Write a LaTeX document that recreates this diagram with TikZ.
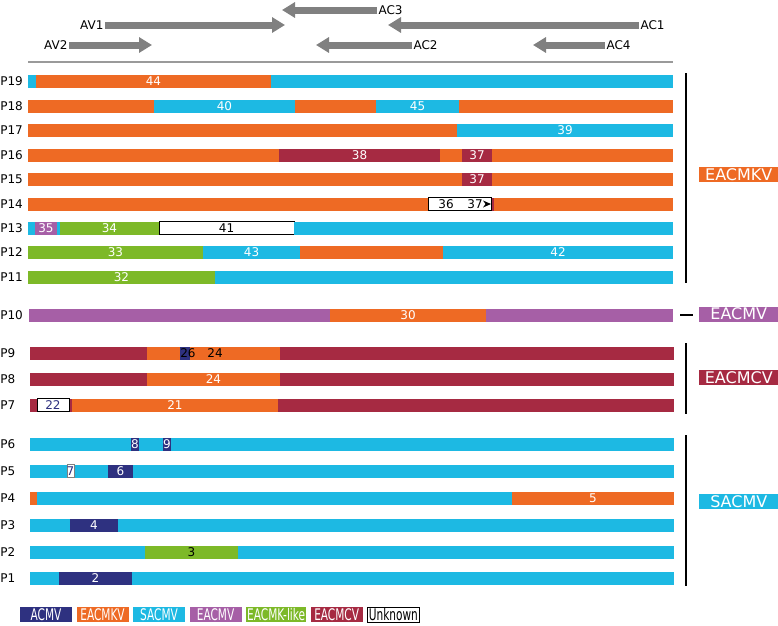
\documentclass[tikz,border=0pt]{standalone}
\usepackage{fontspec}
\setmainfont{DejaVu Sans}
\usepackage{graphicx}
\usepackage{tikz}
\usetikzlibrary{positioning,arrows.meta}

\definecolor{acmv}{HTML}{2E3180}
\definecolor{eacmkv}{HTML}{EE6A24}
\definecolor{sacmv}{HTML}{1DB9E3}
\definecolor{eacmv}{HTML}{A65FA6}
\definecolor{eacmkl}{HTML}{7DB928}
\definecolor{eacmcv}{HTML}{A62A42}
\definecolor{genegray}{HTML}{808080}
\definecolor{rulegray}{HTML}{9A9A9A}

% one coloured piece of a genome bar: [text colour]{row y}{x from}{x to}{fill}{label}
\newcommand{\genseg}[6][white]{%
  \fill[#5] (#3,#2-6.5) rectangle (#4,#2+6.5);
  \node[barlab, text=#1] at ({(#3+#4)/2},#2) {#6};}

\begin{document}
\begin{tikzpicture}[
  x=0.75pt, y=-0.75pt,
  barlab/.style={font=\fontsize{9}{10}\selectfont, inner sep=0pt},
  rowlab/.style={font=\fontsize{9}{10}\selectfont, anchor=west, inner sep=0pt},
  genlab/.style={font=\fontsize{9}{10}\selectfont, inner sep=1pt},
  gene/.style={draw=genegray, line width=5.25pt, -{Triangle[length=9.75pt, width=11.25pt]}},
  clade/.style={font=\fontsize{12}{14}\selectfont, text=white, anchor=west, minimum width=59.25pt, minimum height=11.25pt, inner sep=0pt},
  bracket/.style={line width=1.3pt},
  legendkey/.style={font=\fontsize{12}{14}\selectfont, text=white, minimum width=39pt, minimum height=11.25pt, inner sep=0pt},
  unk/.style={fill=white, draw=black, line width=0.7pt},
]
\useasboundingbox (0,0) rectangle (778,625);

% genes on top
\node[genlab, anchor=west] (ac3) at (377,10) {AC3};
\node[genlab, anchor=east] (av1) at (105,25) {AV1};
\node[genlab, anchor=west] (ac1) at (639,25) {AC1};
\node[genlab, anchor=east] (av2) at (69,45) {AV2};
\node[genlab, anchor=west] (ac2) at (412,45) {AC2};
\node[genlab, anchor=west] (ac4) at (605,45) {AC4};
\coordinate (ac3tip) at (282,10);
\coordinate (av1tip) at (285,25);
\coordinate (ac1tip) at (388,25);
\coordinate (av2tip) at (152,45);
\coordinate (ac2tip) at (316,45);
\coordinate (ac4tip) at (533,45);
\draw[gene] (ac3) -- (ac3tip);
\draw[gene] (av1) -- (av1tip);
\draw[gene] (ac1) -- (ac1tip);
\draw[gene] (av2) -- (av2tip);
\draw[gene] (ac2) -- (ac2tip);
\draw[gene] (ac4) -- (ac4tip);
\draw[rulegray, line width=1.1pt] (28,62) -- (673,62);

% row names
\foreach \n/\y in {19/81,18/106,17/130,16/155,15/179,14/204,13/228,12/252,11/277,10/315,
                   9/353,8/379,7/405,6/444,5/471,4/498,3/525,2/552,1/578}
  \node[rowlab] (p\n) at (0,\y) {P\n};

% EACMKV isolates
\genseg{81}{28}{36}{sacmv}{}
\genseg{81}{36}{271}{eacmkv}{44}
\genseg{81}{271}{673}{sacmv}{}
\genseg{106}{28}{154}{eacmkv}{}
\genseg{106}{154}{295}{sacmv}{40}
\genseg{106}{295}{376}{eacmkv}{}
\genseg{106}{376}{459}{sacmv}{45}
\genseg{106}{459}{673}{eacmkv}{}
\genseg{130}{28}{457}{eacmkv}{}
\genseg{130}{457}{673}{sacmv}{39}
\genseg{155}{28}{279}{eacmkv}{}
\genseg{155}{279}{440}{eacmcv}{38}
\genseg{155}{440}{462}{eacmkv}{}
\genseg{155}{462}{492}{eacmcv}{37}
\genseg{155}{492}{673}{eacmkv}{}
\genseg{179}{28}{462}{eacmkv}{}
\genseg{179}{462}{492}{eacmcv}{37}
\genseg{179}{492}{673}{eacmkv}{}
\genseg{204}{28}{673}{eacmkv}{}
\genseg{204}{491}{494}{eacmcv}{}
\genseg[black]{204}{428}{491}{unk}{}
\node[barlab] (r36) at (446,204) {36};
\node[barlab] (r37) at (475,204) {37};
\fill (483,200.5) -- (491,204) -- (483,207.5) -- (485.5,204) -- cycle;
\genseg{228}{28}{35}{sacmv}{}
\genseg{228}{35}{57}{eacmv}{35}
\genseg{228}{57}{60}{sacmv}{}
\genseg{228}{60}{159}{eacmkl}{34}
\genseg[black]{228}{159}{294}{unk}{41}
\genseg{228}{294}{673}{sacmv}{}
\genseg{252}{28}{203}{eacmkl}{33}
\genseg{252}{203}{300}{sacmv}{43}
\genseg{252}{300}{443}{eacmkv}{}
\genseg{252}{443}{673}{sacmv}{42}
\genseg{277}{28}{215}{eacmkl}{32}
\genseg{277}{215}{673}{sacmv}{}

% EACMV isolate
\genseg{315}{29}{330}{eacmv}{}
\genseg{315}{330}{486}{eacmkv}{30}
\genseg{315}{486}{673}{eacmv}{}

% EACMCV isolates
\genseg{353}{30}{147}{eacmcv}{}
\genseg{353}{147}{280}{eacmkv}{}
\genseg{353}{280}{674}{eacmcv}{}
\genseg{353}{180}{190}{acmv}{}
\node[barlab, anchor=west] (r26) at (180,353) {26};
\node[barlab] (r24) at (215,353) {24};
\genseg{379}{30}{147}{eacmcv}{}
\genseg{379}{147}{280}{eacmkv}{24}
\genseg{379}{280}{674}{eacmcv}{}
\genseg{405}{30}{674}{eacmcv}{}
\genseg[acmv]{405}{37}{69}{unk}{22}
\genseg{405}{72}{278}{eacmkv}{21}

% SACMV isolates
\genseg{444}{30}{674}{sacmv}{}
\genseg{444}{131}{139}{acmv}{8}
\genseg{444}{163}{171}{acmv}{9}
\genseg{471}{30}{674}{sacmv}{}
\genseg[acmv]{471}{67}{74}{unk, draw=gray}{7}
\genseg{471}{108}{133}{acmv}{6}
\genseg{498}{30}{37}{eacmkv}{}
\genseg{498}{37}{512}{sacmv}{}
\genseg{498}{512}{674}{eacmkv}{5}
\genseg{525}{30}{674}{sacmv}{}
\genseg{525}{70}{118}{acmv}{4}
\genseg{552}{30}{674}{sacmv}{}
\genseg[black]{552}{145}{238}{eacmkl}{3}
\genseg{578}{30}{674}{sacmv}{}
\genseg{578}{59}{132}{acmv}{2}

% clade brackets
\draw[bracket] (686,73) -- (686,283);
\draw[bracket] (680,315) -- (693,315);
\draw[bracket] (686,343) -- (686,414);
\draw[bracket] (686,435) -- (686,586);
\node[clade, fill=eacmkv] (ceacmkv) at (699,174.5) {EACMKV};
\node[clade, fill=eacmv] (ceacmv) at (699,314) {EACMV};
\node[clade, fill=eacmcv] (ceacmcv) at (699,377.5) {EACMCV};
\node[clade, fill=sacmv] (csacmv) at (699,501.5) {SACMV};

% legend
\node[legendkey, fill=acmv] (kacmv) at (46,614.5) {\scalebox{0.66}[1]{ACMV}};
\node[legendkey, fill=eacmkv, right=3pt of kacmv] (keacmkv) {\scalebox{0.66}[1]{EACMKV}};
\node[legendkey, fill=sacmv, right=3pt of keacmkv] (ksacmv) {\scalebox{0.66}[1]{SACMV}};
\node[legendkey, fill=eacmv, right=3pt of ksacmv] (keacmv) {\scalebox{0.66}[1]{EACMV}};
\node[legendkey, fill=eacmkl, minimum width=45pt, right=3pt of keacmv] (keacmkl) {\scalebox{0.66}[1]{EACMK-like}};
\node[legendkey, fill=eacmcv, right=3pt of keacmkl] (keacmcv) {\scalebox{0.66}[1]{EACMCV}};
\node[legendkey, unk, text=black, right=3pt of keacmcv] (kunk) {\scalebox{0.66}[1]{Unknown}};
\end{tikzpicture}
\end{document}
